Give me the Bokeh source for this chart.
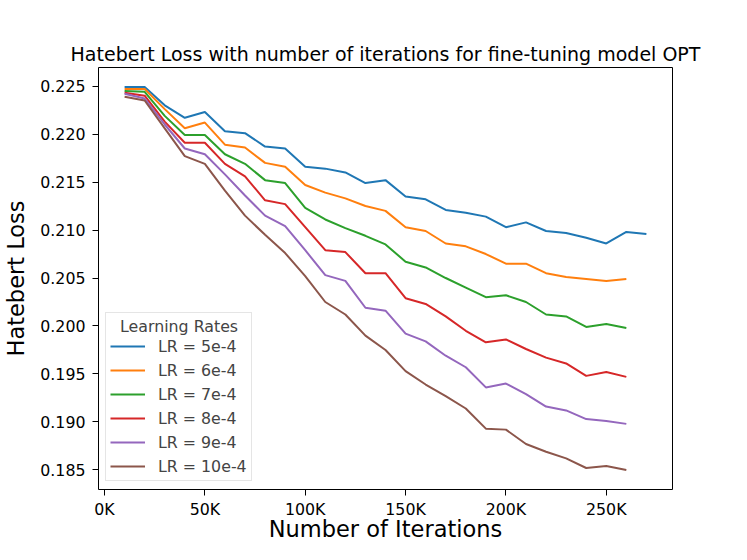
from bokeh.plotting import figure
from bokeh.models import Range1d, FixedTicker, Legend, LegendItem, PrintfTickFormatter
from bokeh.embed import file_html
from bokeh.resources import INLINE

iterations = [10000 * k for k in range(1, 28)]

lr_labels = ["LR = 5e-4", "LR = 6e-4", "LR = 7e-4", "LR = 8e-4", "LR = 9e-4", "LR = 10e-4"]
colors = ["#1f77b4", "#ff7f0e", "#2ca02c", "#d62728", "#9467bd", "#8c564b"]

loss_5e4 = [0.2249, 0.2249, 0.2230, 0.2217, 0.2223, 0.2203, 0.2201, 0.2187, 0.2185, 0.2166,
            0.2164, 0.2160, 0.2149, 0.2152, 0.2135, 0.2132, 0.2121, 0.2118, 0.2114, 0.2103,
            0.2108, 0.2099, 0.2097, 0.2092, 0.2086, 0.2098, 0.2096]
loss_6e4 = [0.2247, 0.2247, 0.2226, 0.2206, 0.2212, 0.2189, 0.2186, 0.2170, 0.2166, 0.2147,
            0.2139, 0.2133, 0.2125, 0.2120, 0.2103, 0.2099, 0.2086, 0.2083, 0.2075, 0.2065,
            0.2065, 0.2055, 0.2051, 0.2049, 0.2047, 0.2049]
loss_7e4 = [0.2245, 0.2244, 0.2219, 0.2199, 0.2199, 0.2179, 0.2169, 0.2152, 0.2149, 0.2123,
            0.2111, 0.2102, 0.2094, 0.2085, 0.2067, 0.2061, 0.2050, 0.2040, 0.2030, 0.2032,
            0.2025, 0.2012, 0.2010, 0.1999, 0.2002, 0.1998]
loss_8e4 = [0.2243, 0.2240, 0.2213, 0.2191, 0.2191, 0.2169, 0.2156, 0.2131, 0.2127, 0.2103,
            0.2079, 0.2077, 0.2055, 0.2055, 0.2029, 0.2023, 0.2010, 0.1995, 0.1983, 0.1986,
            0.1976, 0.1967, 0.1961, 0.1948, 0.1952, 0.1947]
loss_9e4 = [0.2242, 0.2237, 0.2210, 0.2185, 0.2179, 0.2158, 0.2136, 0.2115, 0.2104, 0.2079,
            0.2053, 0.2047, 0.2019, 0.2016, 0.1992, 0.1984, 0.1969, 0.1957, 0.1936, 0.1940,
            0.1929, 0.1916, 0.1912, 0.1903, 0.1901, 0.1898]
loss_10e4 = [0.2239, 0.2235, 0.2206, 0.2177, 0.2169, 0.2141, 0.2115, 0.2095, 0.2076, 0.2052,
             0.2025, 0.2012, 0.1990, 0.1975, 0.1953, 0.1939, 0.1927, 0.1914, 0.1893, 0.1892,
             0.1877, 0.1869, 0.1862, 0.1852, 0.1854, 0.1850]

series = [loss_5e4, loss_6e4, loss_7e4, loss_8e4, loss_9e4, loss_10e4]

x_ticks = [0, 50000, 100000, 150000, 200000, 250000]
x_tick_labels = ["0K", "50K", "100K", "150K", "200K", "250K"]
y_ticks = [0.185, 0.190, 0.195, 0.200, 0.205, 0.210, 0.215, 0.220, 0.225]

FONT = "DejaVu Sans"

p = figure(width=731, height=544, output_backend="svg", toolbar_location=None,
           x_range=Range1d(-3000, 283000), y_range=Range1d(0.18296, 0.22694),
           title="Hatebert Loss with number of iterations for fine-tuning model OPT",
           min_border_left=93, min_border_right=59, min_border_top=67, min_border_bottom=50)

p.title.align = "center"
p.title.text_font = FONT
p.title.text_font_size = "19px"
p.title.text_font_style = "normal"
p.title.text_color = "black"
p.title.standoff = 5

p.xgrid.visible = False
p.ygrid.visible = False
p.outline_line_color = "black"
p.outline_line_width = 1

for ax in (p.xaxis[0], p.yaxis[0]):
    ax.axis_line_color = None
    ax.major_tick_in = 0
    ax.major_tick_out = 6
    ax.minor_tick_line_color = None
    ax.major_label_text_font = FONT
    ax.major_label_text_font_size = "15.8px"
    ax.major_label_text_color = "black"
    ax.axis_label_text_font = FONT
    ax.axis_label_text_font_size = "22.5px"
    ax.axis_label_text_font_style = "normal"
    ax.axis_label_text_color = "black"

p.xaxis.ticker = FixedTicker(ticks=x_ticks)
p.xaxis.major_label_overrides = {t: l for t, l in zip(x_ticks, x_tick_labels)}
p.xaxis.major_label_standoff = 4
p.xaxis.axis_label = "Number of Iterations"
p.xaxis.axis_label_standoff = -6

p.yaxis.ticker = FixedTicker(ticks=y_ticks)
p.yaxis.formatter = PrintfTickFormatter(format="%.3f")
p.yaxis.major_label_standoff = 7
p.yaxis.axis_label = "Hatebert Loss"
p.yaxis.axis_label_standoff = 8

items = []
for vals, lab, col in zip(series, lr_labels, colors):
    r = p.line(iterations[:len(vals)], vals, line_color=col, line_width=2)
    items.append(LegendItem(label=lab, renderers=[r]))

legend = Legend(items=items, location=(7, 8), title="\u00a0\u00a0Learning Rates",
                title_text_font=FONT, title_text_font_size="15.8px", title_text_font_style="normal",
                title_standoff=0,
                label_text_font=FONT, label_text_font_size="15.8px",
                glyph_width=35, glyph_height=20, label_height=20, label_standoff=13,
                spacing=4, padding=4, margin=0,
                border_line_color="#cccccc", background_fill_alpha=0.8)
p.add_layout(legend)

open("out.html", "w").write(file_html(p, INLINE))
